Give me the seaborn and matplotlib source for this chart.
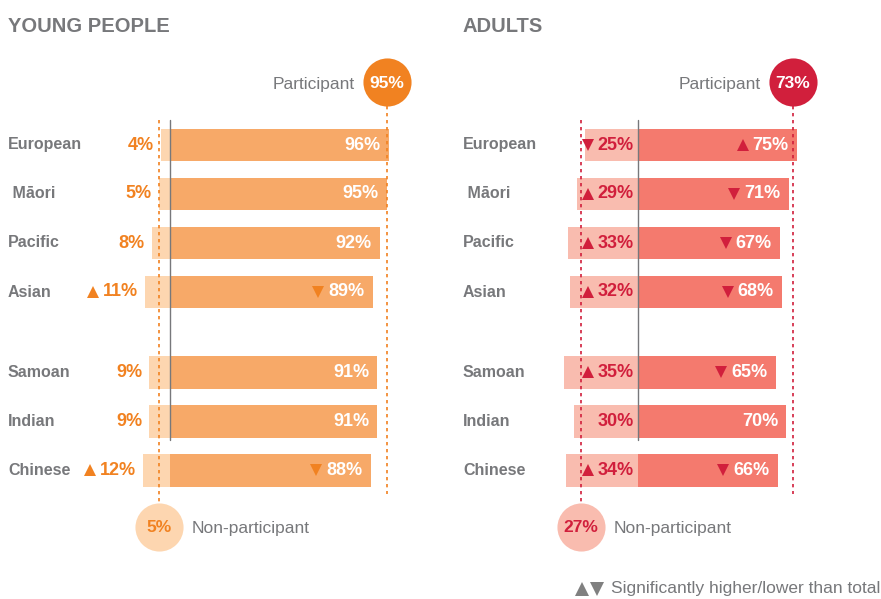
import numpy as np
import pandas as pd
import matplotlib
matplotlib.use("Agg")
import matplotlib.pyplot as plt
import seaborn as sns

groups = ["European", "Māori", "Pacific", "Asian", "Samoan", "Indian", "Chinese"]
young_part = [96, 95, 92, 89, 91, 91, 88]
young_non = [4, 5, 8, 11, 9, 9, 12]
young_sig = ["", "", "", "+", "", "", "+"]   # sign for the non-participant share
young_total = 95
adult_part = [75, 71, 67, 68, 65, 70, 66]
adult_non = [25, 29, 33, 32, 35, 30, 34]
adult_sig = ["-", "+", "+", "+", "+", "", "+"]
adult_total = 73

sns.set_theme(style="white")
plt.rcParams["font.family"] = ["Liberation Sans", "DejaVu Sans"]

GRAY = "#77787b"
W, H = 881, 599

fig = plt.figure(figsize=(W / 100, H / 100), dpi=100)


def ypx(p):
    # pixel row -> data row (row 0 centred at 145 px, 49 px per row)
    return (p - 145) / 49


rows = np.arange(len(groups)) + 0.65 * (np.arange(len(groups)) >= 4)

panels = [
    dict(title="YOUNG PEOPLE", left=0, width=440, zero=170, scale=2.28, pad=8,
         part=young_part, non=young_non, sig=young_sig, total=young_total,
         dark="#f7a968", light="#fdd6b0", accent="#f18221", inside=False),
    dict(title="ADULTS", left=440, width=441, zero=198, scale=2.12, pad=23,
         part=adult_part, non=adult_non, sig=adult_sig, total=adult_total,
         dark="#f47a6e", light="#f9bcaf", accent="#d11f3c", inside=True),
]

pending = []  # (ax, text artist, y, marker, colour)

for p in panels:
    ax = fig.add_axes([p["left"] / W, 0, p["width"] / W, 1])
    df = pd.DataFrame({"row": rows, "part": p["part"], "non": [-v for v in p["non"]]})
    sns.barplot(data=df, x="non", y="row", orient="h", native_scale=True,
                color=p["light"], saturation=1, width=0.673, linewidth=0,
                errorbar=None, ax=ax)
    sns.barplot(data=df, x="part", y="row", orient="h", native_scale=True,
                color=p["dark"], saturation=1, width=0.673, linewidth=0,
                errorbar=None, ax=ax)
    ax.set_xlim(-p["zero"] / p["scale"], (p["width"] - p["zero"]) / p["scale"])
    ax.set_ylim(ypx(H), ypx(0))
    ax.axis("off")

    # reference lines
    ax.plot([0, 0], [ypx(120), ypx(440)], color=GRAY, lw=1, zorder=3)
    ax.plot([p["total"]] * 2, [ypx(106), ypx(494)], color=p["accent"], lw=1.2,
            ls=(0, (2, 2.2)), zorder=3)
    ax.plot([p["total"] - 100] * 2, [ypx(120), ypx(503)], color=p["accent"], lw=1.2,
            ls=(0, (2, 2.2)), zorder=1)

    # total circles
    ax.scatter([p["total"]], [ypx(82)], s=1200, color=p["accent"], lw=0, zorder=4)
    ax.text(p["total"], ypx(83), f"{p['total']}%", color="white", fontsize=12.5,
            fontweight="bold", ha="center", va="center", zorder=5)
    ax.scatter([p["total"] - 100], [ypx(527)], s=1200, color=p["light"], lw=0, zorder=4)
    ax.text(p["total"] - 100, ypx(528), f"{100 - p['total']}%", color=p["accent"],
            fontsize=12.5, fontweight="bold", ha="center", va="center", zorder=5)
    ax.annotate("Participant", xy=(p["total"], ypx(84)), xytext=(-23, 0),
                textcoords="offset points", ha="right", va="center",
                color=GRAY, fontsize=12.5)
    ax.annotate("Non-participant", xy=(p["total"] - 100, ypx(528)), xytext=(24, 0),
                textcoords="offset points", ha="left", va="center",
                color=GRAY, fontsize=12.5)

    fig.text((p["left"] + p["pad"]) / W, 1 - 27 / H, p["title"], color=GRAY,
             fontsize=14.5, fontweight="heavy", ha="left", va="center")

    for i, g in enumerate(groups):
        y = rows[i]
        lab = (" " + g) if g == "Māori" else g
        fig.text((p["left"] + p["pad"]) / W, 1 - (145 + 49 * y) / H, lab,
                 ha="left", va="center", color=GRAY, fontsize=11.5, fontweight="bold")
        # participant value
        t = ax.annotate(f"{p['part'][i]}%", xy=(p["part"][i], y), xytext=(-6, 0),
                        textcoords="offset points", ha="right", va="center",
                        color="white", fontsize=13, fontweight="bold", zorder=5)
        s = p["sig"][i]
        if s:
            pending.append((ax, t, y, "v" if s == "+" else "^", p["accent"]))
        # non-participant value
        if p["inside"]:
            xy, dx = (0, y), -3
        else:
            xy, dx = (-p["non"][i], y), -5
        t = ax.annotate(f"{p['non'][i]}%", xy=xy, xytext=(dx, 0),
                        textcoords="offset points", ha="right", va="center",
                        color=p["accent"], fontsize=13, fontweight="bold", zorder=5)
        if s:
            pending.append((ax, t, y, "^" if s == "+" else "v", p["accent"]))

fig.canvas.draw()
r = fig.canvas.get_renderer()
for ax, t, y, mk, col in pending:
    bb = t.get_window_extent(r)
    xd = ax.transData.inverted().transform((bb.x0 - 3 - 7, bb.y0))[0]
    ax.plot([xd], [y - 0.01], marker=mk, ms=9, color=col, mew=0, ls="none",
            zorder=5)

fig.text(880 / W, 1 - 589 / H, "Significantly higher/lower than total", color=GRAY,
         fontsize=12.5, ha="right", va="center")
lax = fig.add_axes([0, 0, 1, 1], facecolor="none")
lax.set_xlim(0, W)
lax.set_ylim(H, 0)
lax.axis("off")
lax.plot([612 - 30], [589], marker="^", ms=9.5, color="#808080", mew=0, ls="none")
lax.plot([612 - 15], [589], marker="v", ms=9.5, color="#808080", mew=0, ls="none")

fig.savefig("out.png", dpi=100)
